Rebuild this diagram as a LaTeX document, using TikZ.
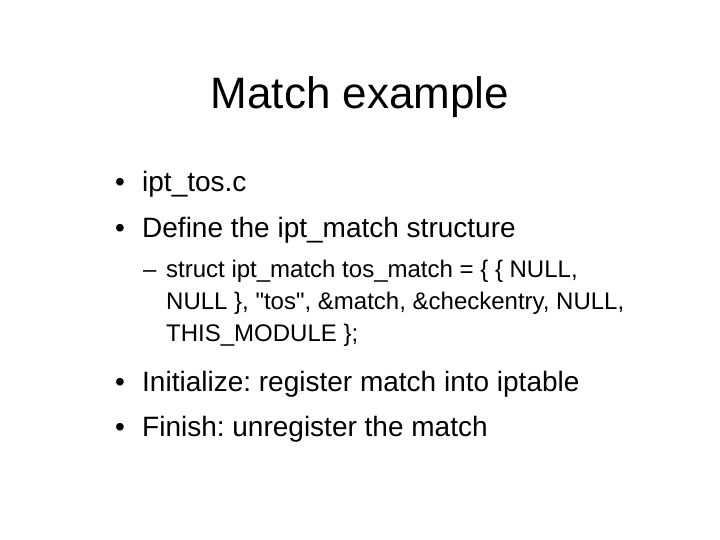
\documentclass[tikz,border=0pt]{standalone}
\usepackage{fontspec}
\setmainfont{Liberation Sans}[Ligatures=TeXOff]
\frenchspacing
\begin{document}
\begin{tikzpicture}[x=1pt,y=-1pt,
  txt/.style={anchor=base west,inner sep=0pt,font=\fontsize{28}{34}\selectfont},
  sub/.style={anchor=base west,inner sep=0pt,font=\fontsize{24}{29}\selectfont}]
\useasboundingbox (0,0) rectangle (720,540);
\node[anchor=base,inner sep=0pt,font=\fontsize{44}{52}\selectfont] (title) at (360,109) {Match example};
\node[txt] (b1) at (115,192) {•};
\node[txt] (t1) at (142,192) {ipt\_tos.c};
\node[txt] (b2) at (115,237) {•};
\node[txt] (t2) at (142,237) {Define the ipt\_match structure};
\node[sub] (d1) at (143,277) {–};
\node[sub] (s1) at (166,277) {struct ipt\_match tos\_match = \{ \{ NULL,};
\node[sub] (s2) at (166,309) {NULL \}, "tos", \&match, \&checkentry, NULL,};
\node[sub] (s3) at (166,341) {THIS\_MODULE \};};
\node[txt] (b3) at (115,391) {•};
\node[txt] (t3) at (142,391) {Initialize: register match into iptable};
\node[txt] (b4) at (115,436) {•};
\node[txt] (t4) at (142,436) {Finish: unregister the match};
\end{tikzpicture}
\end{document}
